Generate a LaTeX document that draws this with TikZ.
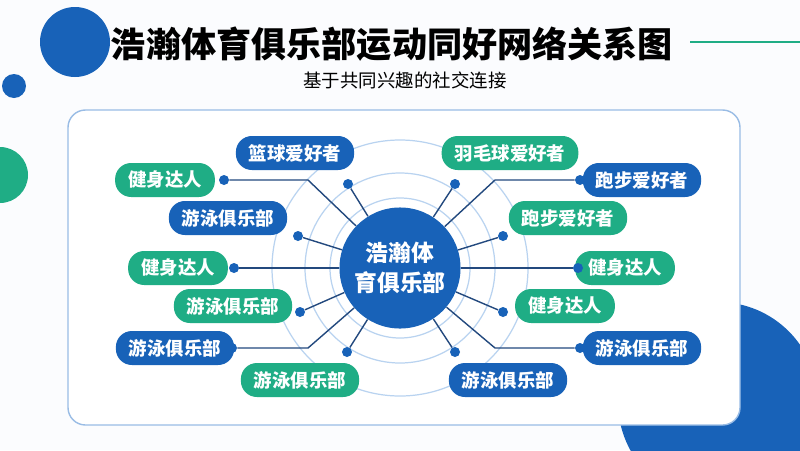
\documentclass[tikz,border=0pt]{standalone}
\usepackage{fontspec}
\setmainfont{Noto Sans CJK SC}
\usetikzlibrary{positioning}
\definecolor{hblue}{HTML}{1862B8}
\definecolor{hgreen}{HTML}{1FAD85}
\definecolor{hline}{HTML}{23497E}
\definecolor{hring}{HTML}{B9D3F0}
\tikzset{
  tag/.style={rounded corners=0.32cm, minimum height=0.68cm, inner xsep=0.26cm,
    text=white, font=\bfseries\fontsize{10.5}{12}\selectfont},
  bluetag/.style={tag, fill=hblue},
  greentag/.style={tag, fill=hgreen},
  dot/.style={circle, fill=hblue, inner sep=0pt, minimum size=0.2cm},
  link/.style={hline, line width=0.8pt},
}
\begin{document}
\begin{tikzpicture}[x=0.02cm, y=-0.02cm]
\useasboundingbox (0,0) rectangle (800,450);
\fill[white!94!hring] (0,0) rectangle (800,450);
\begin{scope}
\clip (0,0) rectangle (800,450);
\fill[hblue] (75,42) circle (35);
\fill[hblue] (14,86) circle (12);
\fill[hgreen] (0,175) circle (28);
\fill[hblue] (718,402) circle (100);
\end{scope}
\draw[hgreen, line width=1.2pt] (690,42) -- (800,42);

\node[font=\bfseries\fontsize{20}{22}\selectfont] (title) at (392,44) {浩瀚体育俱乐部运动同好网络关系图};
\node[font=\fontsize{10.5}{12}\selectfont] (sub) at (405,80) {基于共同兴趣的社交连接};

\draw[hring!80!hblue, fill=white, rounded corners=0.35cm, line width=0.8pt] (68,110) rectangle (740,425);

%% rings
\foreach \r in {70,95,128}
  \draw[hring, line width=0.7pt] (400,268) circle (\r);

\node[circle, fill=hblue, minimum size=2.2cm, align=center, text=white,
  font=\bfseries\fontsize{13}{17}\selectfont] (club) at (400,268) {浩瀚体\\育俱乐部};

%% left side
\node[bluetag]  (bask)  at (295,153) {篮球爱好者};
\node[greentag] (fitA)  at (165,180) {健身达人};
\node[bluetag]  (swimA) at (228,218) {游泳俱乐部};
\node[greentag] (fitB)  at (178,268) {健身达人};
\node[greentag] (swimB) at (233,306) {游泳俱乐部};
\node[bluetag]  (swimC) at (175,348) {游泳俱乐部};
\node[greentag] (swimD) at (300,380) {游泳俱乐部};
%% right side
\node[greentag] (badm)  at (510,153) {羽毛球爱好者};
\node[bluetag]  (runA)  at (642,180) {跑步爱好者};
\node[greentag] (runB)  at (568,218) {跑步爱好者};
\node[greentag] (fitC)  at (625,268) {健身达人};
\node[greentag] (fitD)  at (565,306) {健身达人};
\node[bluetag]  (swimE) at (642,348) {游泳俱乐部};
\node[bluetag]  (swimF) at (508,380) {游泳俱乐部};

\node[dot] (d1)  at (348,184) {};
\node[dot] (d2)  at (224,180) {};
\node[dot] (d3)  at (298,236) {};
\node[dot] (d4)  at (234,268) {};
\node[dot] (d5)  at (300,312) {};
\node[dot] (d6)  at (232,348) {};
\node[dot] (d7)  at (347,352) {};
\node[dot] (d8)  at (455,184) {};
\node[dot] (d9)  at (580,180) {};
\node[dot] (d10) at (503,236) {};
\node[dot] (d11) at (578,268) {};
\node[dot] (d12) at (503,312) {};
\node[dot] (d13) at (580,348) {};
\node[dot] (d14) at (455,352) {};

\coordinate (bL1) at (308,180);
\coordinate (bL2) at (308,348);
\coordinate (bR1) at (495,180);
\coordinate (bR2) at (495,348);

\draw[link] (d1) -- (club);
\draw[link] (d2) -- (bL1) -- (club);
\draw[link] (d3) -- (club);
\draw[link] (d4) -- (club);
\draw[link] (d5) -- (club);
\draw[link] (d6) -- (bL2) -- (club);
\draw[link] (d7) -- (club);
\draw[link] (d8) -- (club);
\draw[link] (d9) -- (bR1) -- (club);
\draw[link] (d10) -- (club);
\draw[link] (d11) -- (club);
\draw[link] (d12) -- (club);
\draw[link] (d13) -- (bR2) -- (club);
\draw[link] (d14) -- (club);
\end{tikzpicture}
\end{document}
